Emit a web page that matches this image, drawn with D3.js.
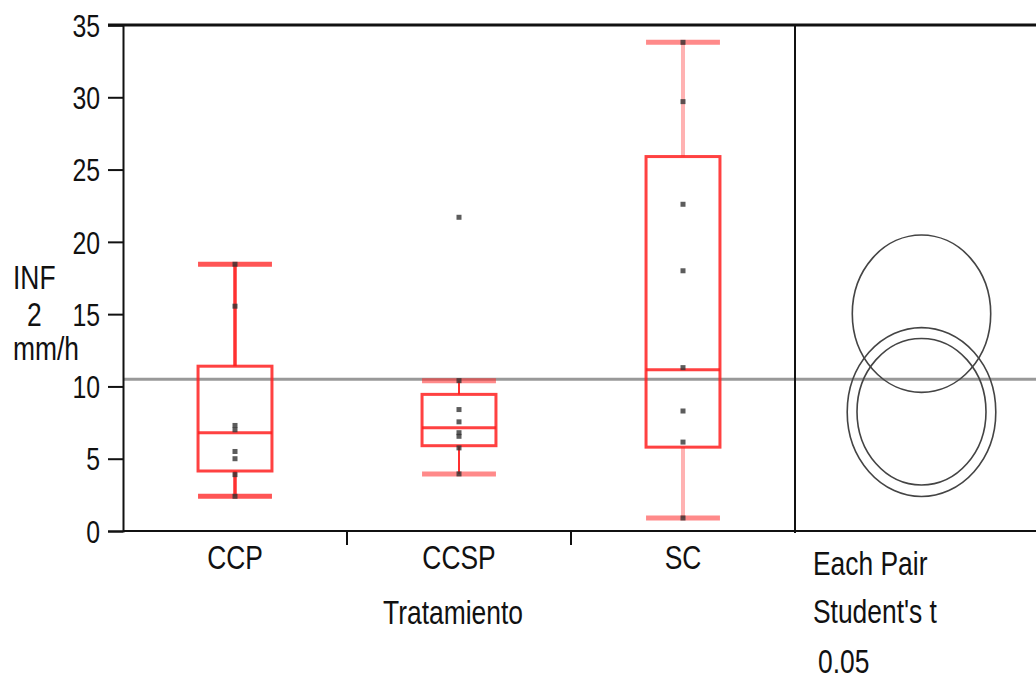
<!DOCTYPE html>
<html lang="en">
<head>
<meta charset="UTF-8">
<title>INF 2 mm/h por Tratamiento</title>
<script src="https://d3js.org/d3.v7.min.js"></script>
<style>
  body { margin: 0; background: #fff; }
  svg text { font-family: "Liberation Sans", Arial, sans-serif; fill: #111; }
</style>
</head>
<body>
<div id="chart"></div>
<script>
// categories and box summaries
var categories = ["CCP", "CCSP", "SC"];
var whiskerLow = [2.4, 3.95, 0.9];
var q1 = [4.15, 5.9, 5.8];
var median = [6.8, 7.15, 11.15];
var q3 = [11.4, 9.45, 25.9];
var whiskerHigh = [18.45, 10.4, 33.8];

// raw observations per group
var pointsCCP = [18.45, 15.55, 7.3, 7.0, 5.5, 5.0, 3.9, 2.4];
var pointsCCSP = [21.7, 10.4, 8.4, 7.55, 6.8, 6.55, 5.75, 3.95];
var pointsSC = [33.8, 29.7, 22.6, 18.0, 11.3, 8.3, 6.15, 0.9];

var grandMean = 10.5;

// comparison circles (Each Pair, Student's t, 0.05)
var circleCenters = [8.23, 8.25, 15.03];
var circleRadii = [5.84, 5.07, 5.44];

var yTicks = [0, 5, 10, 15, 20, 25, 30, 35];

var width = 1036, height = 679;
var mLeft = 123, mTop = 25, mBottom = 531, sep = 795;
var squeeze = 0.8; // the original font is a narrow one

var svg = d3.select("#chart").append("svg")
    .attr("width", width)
    .attr("height", height);

var y = d3.scaleLinear().domain([0, 35]).range([mBottom, mTop]);
var x = d3.scaleBand().domain(categories).range([mLeft, sep]);
var boxW = x.bandwidth() * 0.33;

function label(px, py, txt, anchor, size) {
    svg.append("text")
        .attr("transform", "translate(" + px + "," + py + ") scale(" + squeeze + ",1)")
        .attr("text-anchor", anchor || "start")
        .attr("font-size", size || 33)
        .text(txt);
}

// grand mean line
svg.append("line")
    .attr("x1", mLeft).attr("x2", width)
    .attr("y1", y(grandMean)).attr("y2", y(grandMean))
    .attr("stroke", "#999").attr("stroke-width", 3);

// frame lines
svg.append("line").attr("x1", mLeft - 15).attr("x2", width).attr("y1", mTop).attr("y2", mTop)
    .attr("stroke", "#111").attr("stroke-width", 3);
svg.append("line").attr("x1", mLeft).attr("x2", width).attr("y1", mBottom).attr("y2", mBottom)
    .attr("stroke", "#111").attr("stroke-width", 2);
svg.append("line").attr("x1", sep).attr("x2", sep).attr("y1", mTop).attr("y2", mBottom + 2)
    .attr("stroke", "#111").attr("stroke-width", 2);

// y axis
var yAxis = svg.append("g")
    .attr("transform", "translate(" + mLeft + ",0)")
    .call(d3.axisLeft(y).tickValues(yTicks).tickSize(15).tickPadding(8));
yAxis.select(".domain").attr("stroke", "#111").attr("stroke-width", 2);
yAxis.selectAll(".tick line").attr("stroke", "#111").attr("stroke-width", 2);
yAxis.selectAll(".tick text")
    .attr("x", -23 / squeeze)
    .attr("transform", "scale(" + squeeze + ",1)")
    .attr("dy", "0.36em")
    .attr("font-size", 31)
    .attr("font-family", null)
    .attr("fill", "#111");

// x separators between categories
svg.selectAll(".xsep")
    .data(categories.slice(1))
    .enter().append("line")
    .attr("x1", function(d){ return x(d); })
    .attr("x2", function(d){ return x(d); })
    .attr("y1", mBottom).attr("y2", mBottom + 14)
    .attr("stroke", "#111").attr("stroke-width", 2);

// category labels
categories.forEach(function(c){
    label(x(c) + x.bandwidth() / 2, 569, c, "middle");
});
label(453, 624, "Tratamiento", "middle");

// y label
label(13, 289, "INF");
label(27, 326, "2");
label(13, 360, "mm/h");

// right panel labels
label(813, 575, "Each Pair");
label(813, 623, "Student's t");
label(818, 673, "0.05");

// box plots
var groups = categories.map(function(c, i){
    return { cat: c, lo: whiskerLow[i], q1: q1[i], med: median[i], q3: q3[i], hi: whiskerHigh[i] };
});
var whiskerStyle = [
    { color: "#ff1a1a", width: 3.5, op: 0.9 },
    { color: "#ff1a1a", width: 2, op: 0.9 },
    { color: "#ff6666", width: 4, op: 0.5 }
];

var box = svg.selectAll(".box")
    .data(groups)
    .enter().append("g")
    .attr("class", "box");

box.each(function(d, i){
    var g = d3.select(this);
    var cx = x(d.cat) + x.bandwidth() / 2;
    var ws = whiskerStyle[i];
    // whiskers
    g.append("line").attr("x1", cx).attr("x2", cx).attr("y1", y(d.q3)).attr("y2", y(d.hi))
        .attr("stroke", ws.color).attr("stroke-width", ws.width).attr("stroke-opacity", ws.op);
    g.append("line").attr("x1", cx).attr("x2", cx).attr("y1", y(d.q1)).attr("y2", y(d.lo))
        .attr("stroke", ws.color).attr("stroke-width", ws.width).attr("stroke-opacity", ws.op);
    // caps
    [d.lo, d.hi].forEach(function(v){
        g.append("line").attr("x1", cx - boxW / 2).attr("x2", cx + boxW / 2)
            .attr("y1", y(v)).attr("y2", y(v))
            .attr("stroke", "#ff2a2a").attr("stroke-width", 5)
            .attr("stroke-opacity", i == 0 ? 0.8 : 0.55);
    });
    // box
    g.append("rect")
        .attr("x", cx - boxW / 2).attr("width", boxW)
        .attr("y", y(d.q3)).attr("height", y(d.q1) - y(d.q3))
        .attr("fill", "none").attr("stroke", "#ff2020")
        .attr("stroke-width", 3).attr("stroke-opacity", 0.85);
    g.append("line").attr("x1", cx - boxW / 2).attr("x2", cx + boxW / 2)
        .attr("y1", y(d.med)).attr("y2", y(d.med))
        .attr("stroke", "#ff2020").attr("stroke-width", 3).attr("stroke-opacity", 0.85);
});

// data points
var pts = [];
[pointsCCP, pointsCCSP, pointsSC].forEach(function(arr, i){
    arr.forEach(function(v){ pts.push({ cat: categories[i], v: v }); });
});
svg.append("g").selectAll("rect")
    .data(pts)
    .enter().append("rect")
    .attr("x", function(d){ return x(d.cat) + x.bandwidth() / 2 - 2.5; })
    .attr("y", function(d){ return y(d.v) - 2.5; })
    .attr("width", 5).attr("height", 5)
    .attr("fill", "#333").attr("fill-opacity", 0.8);

// comparison circles
var ccx = 921.5;
svg.append("g").selectAll("ellipse")
    .data(circleCenters)
    .enter().append("ellipse")
    .attr("cx", ccx)
    .attr("cy", function(d){ return y(d); })
    .attr("ry", function(d, i){ return y(0) - y(circleRadii[i]); })
    .attr("rx", function(d, i){ return (y(0) - y(circleRadii[i])) * 0.88; })
    .attr("fill", "none")
    .attr("stroke", "#444")
    .attr("stroke-width", 1.6);
</script>
</body>
</html>
